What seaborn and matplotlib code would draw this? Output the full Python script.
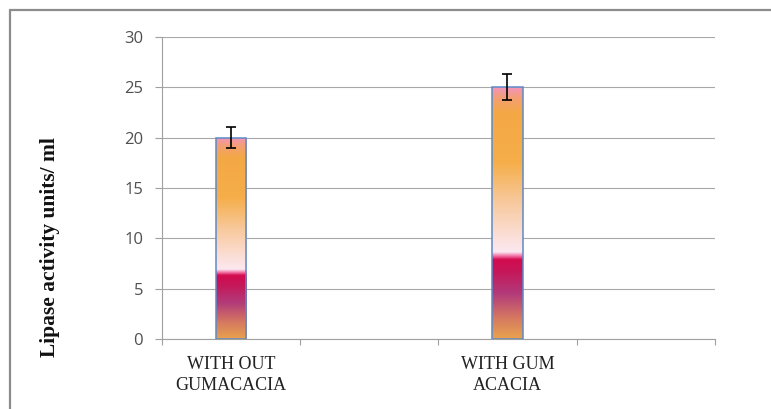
import numpy as np
import matplotlib
matplotlib.use("Agg")
import matplotlib.pyplot as plt
from matplotlib.colors import LinearSegmentedColormap
from matplotlib.lines import Line2D
import seaborn as sns

# Data
categories = ["WITH OUT\nGUMACACIA", "WITH GUM\nACACIA"]
activity = [20.0, 25.0]          # lipase activity, units/ml
errors = [1.0, 1.3]              # error bar half-lengths
slots = ["WITH OUT\nGUMACACIA", " ", "WITH GUM\nACACIA", "  "]
slot_labels = ["WITH OUT\nGUMACACIA", "", "WITH GUM\nACACIA", ""]
y_ticks = [0, 5, 10, 15, 20, 25, 30]

sns.set_theme(style="white")
plt.rcParams["font.family"] = ["DejaVu Sans"]

fig = plt.figure(figsize=(7.71, 4.09), dpi=100)
fig.patch.set_facecolor("white")
ax = fig.add_axes([0.210, 0.171, 0.717, 0.739])

sns.barplot(x=categories, y=activity, order=slots, width=0.223,
            color="#F5AE45", edgecolor="#5B8BC8", linewidth=1.1,
            errorbar=None, ax=ax, zorder=3)

# Vertical fill gradient applied to each bar (bottom -> top)
stops = [
    (0.00, "#E9A24E"),
    (0.08, "#D67A60"),
    (0.18, "#B23A7A"),
    (0.27, "#C61658"),
    (0.315, "#D20C4E"),
    (0.328, "#F06AA0"),
    (0.345, "#FCE8F0"),
    (0.40, "#FBE0DA"),
    (0.55, "#F8C89A"),
    (0.70, "#F5AE4A"),
    (0.90, "#F4A845"),
    (0.955, "#F3A070"),
    (1.00, "#F494B8"),
]
cmap = LinearSegmentedColormap.from_list("barfill", stops)
grad = np.linspace(0, 1, 512).reshape(-1, 1)

centers = []
for patch in ax.patches:
    x0, y0 = patch.get_x(), patch.get_y()
    w, h = patch.get_width(), patch.get_height()
    if not np.isfinite(h) or h == 0:
        continue
    im = ax.imshow(grad, cmap=cmap, origin="lower", aspect="auto",
                   extent=[x0, x0 + w, y0, y0 + h], zorder=2,
                   interpolation="bilinear")
    im.set_clip_path(patch)
    patch.set_facecolor("none")
    centers.append((x0 + w / 2, y0 + h))

centers.sort()
xs = [c[0] for c in centers]
tops = [c[1] for c in centers]
ax.errorbar(xs, tops, yerr=errors, fmt="none", ecolor="black",
            elinewidth=1.2, capsize=3.3, capthick=1.2, zorder=4)

ax.set_xlim(-0.5, 3.5)
ax.set_ylim(0, 30)
ax.set_yticks(y_ticks)
ax.set_yticklabels([str(t) for t in y_ticks], fontfamily="Open Sans",
                   fontsize=12, color="#505050")
ax.tick_params(axis="y", which="major", left=True, length=5, width=0.8,
               color="#A0A0A0", pad=8.5)

ax.set_xticks(range(4))
ax.set_xticklabels(slot_labels, fontfamily="Liberation Serif",
                   fontsize=13, color="#222222", linespacing=1.25)
ax.set_xticks(np.arange(-0.5, 4.0, 1.0), minor=True)
ax.tick_params(axis="x", which="major", length=0, pad=12.5)
ax.tick_params(axis="x", which="minor", bottom=True, length=4.5,
               width=0.8, color="#A0A0A0")

ax.grid(axis="y", color="#A8A8A8", linewidth=0.8, zorder=0)
ax.set_axisbelow(True)
for side in ["top", "right"]:
    ax.spines[side].set_visible(False)
for side in ["left", "bottom"]:
    ax.spines[side].set_color("#A0A0A0")
    ax.spines[side].set_linewidth(0.8)

ax.set_xlabel("")
ax.set_ylabel("Lipase activity units/ ml", fontfamily="Liberation Serif",
              fontweight="bold", fontsize=15.5, color="#111111", labelpad=0)
ax.yaxis.set_label_coords(-0.185, 0.305)

# Outer frame (top and left edges)
fig.add_artist(Line2D([10 / 771, 1.0], [1 - 10 / 409, 1 - 10 / 409],
                      transform=fig.transFigure, color="#8C8C8C", linewidth=1.6))
fig.add_artist(Line2D([10 / 771, 10 / 771], [0.0, 1 - 10 / 409],
                      transform=fig.transFigure, color="#8C8C8C", linewidth=1.6))

fig.savefig("out.png", dpi=100, facecolor="white")
